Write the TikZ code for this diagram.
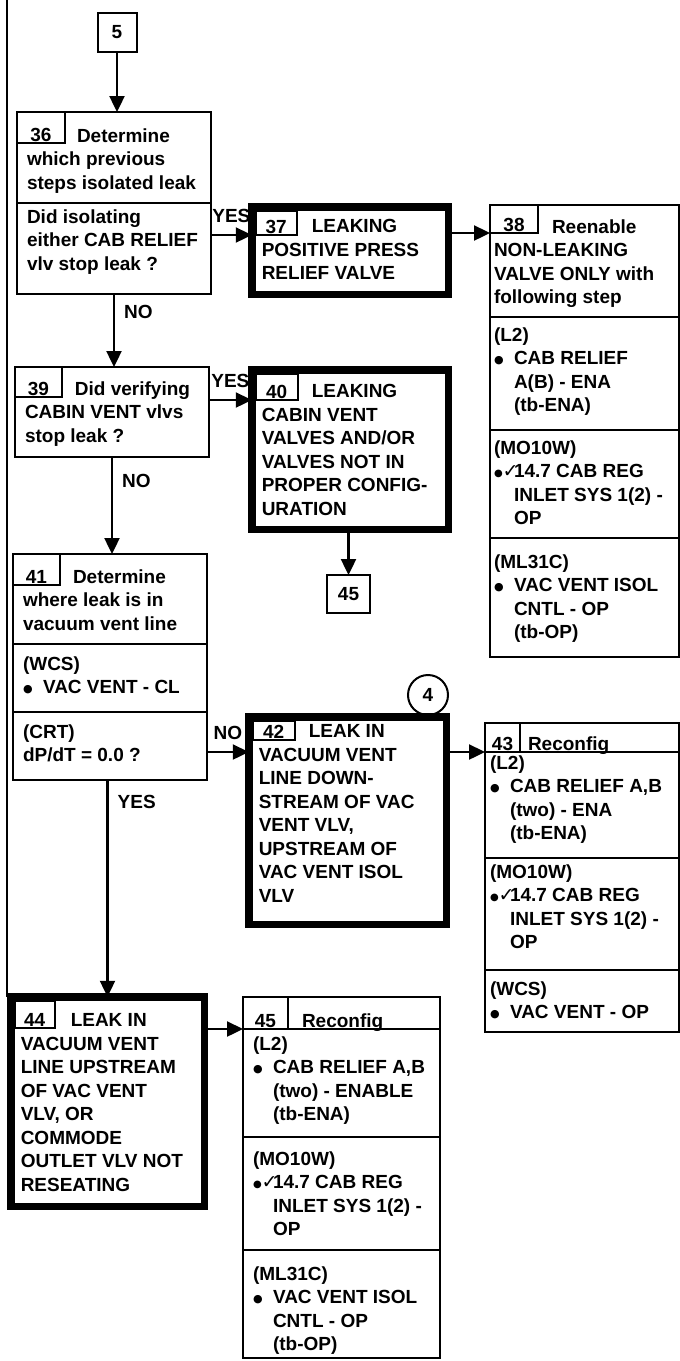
\documentclass[tikz,border=0pt]{standalone}
\usepackage{fontspec}
\newfontfamily\stepfont{Liberation Sans}
\newfontfamily\checkfont{DejaVu Sans}
\usetikzlibrary{arrows.meta,positioning,calc}

\newlength{\hangw}\setlength{\hangw}{20pt}
\newcommand{\bul}{\makebox[\hangw][l]{\raisebox{1.5pt}{\checkfont\fontsize{11}{11}\selectfont ●}}}
\newcommand{\bulchk}{\makebox[\hangw][l]{\raisebox{1.5pt}{\checkfont\fontsize{10}{10}\selectfont ●}{\checkfont\bfseries\fontsize{19}{19}\selectfont ✓}}}
\newcommand{\subline}{\hspace*{\hangw}}
\newcommand{\tabgap}[1][50pt]{\hspace*{#1}}
\newcommand{\stepbody}[5][10pt]{\parbox[t][#3][t]{#2}{\raggedright\leftskip=#1\relax\rule{0pt}{#4}#5}}

\tikzset{
  stepbox/.style={draw, line width=2pt, anchor=north west, inner sep=0pt, outer sep=0pt,
    font=\stepfont\bfseries\fontsize{19}{23.5}\selectfont},
  keybox/.style={stepbox, line width=7.5pt},
  numtab/.style={stepbox, text depth=2pt},
  conn/.style={draw, circle, line width=2pt, minimum size=40pt, inner sep=0pt,
    font=\stepfont\bfseries\fontsize{19}{23.5}\selectfont},
  flow/.style={line width=2.4pt, -{Triangle[length=16pt,width=15pt]}},
  answer/.style={inner sep=1pt, font=\stepfont\bfseries\fontsize{19}{23.5}\selectfont},
  frameline/.style={line width=2.2pt},
}

\begin{document}
\begin{tikzpicture}[x=1pt, y=-1pt]
\useasboundingbox (0,0) rectangle (680,1361);

% left column
\node[stepbox, anchor=center, minimum size=39pt] (b5) at (117,32.5) {5};
\node[stepbox] (b36a) at (17,112) {\stepbody{194pt}{91pt}{30pt}{\tabgap Determine\\which previous\\steps isolated leak}};
\node[stepbox] (b36b) at (b36a.south west) {\stepbody{194pt}{91pt}{20pt}{Did isolating\\either CAB RELIEF\\vlv stop leak ?}};
\node[numtab, minimum width=48pt, text height=29pt] (t36) at (b36a.north west) {36};

\node[stepbox] (b39) at (15,367) {\stepbody{194pt}{90pt}{28pt}{\tabgap Did verifying\\CABIN VENT vlvs\\stop leak ?}};
\node[numtab, minimum width=47pt, text height=28pt] (t39) at (b39.north west) {39};

\node[stepbox] (b41a) at (13,554) {\stepbody{194pt}{90pt}{29pt}{\tabgap Determine\\where leak is in\\vacuum vent line}};
\node[stepbox] (b41b) at (b41a.south west) {\stepbody{194pt}{68pt}{26pt}{(WCS)\\\bul VAC VENT - CL}};
\node[stepbox] (b41c) at (b41b.south west) {\stepbody{194pt}{68pt}{26pt}{(CRT)\\dP/dT = 0.0 ?}};
\node[numtab, minimum width=47pt, text height=29pt] (t41) at (b41a.north west) {41};

\node[keybox] (b44) at (10.75,996.75) {\stepbody{193.5pt}{209.5pt}{30pt}{\tabgap LEAK IN\\VACUUM VENT\\LINE UPSTREAM\\OF VAC VENT\\VLV, OR\\COMMODE\\OUTLET VLV NOT\\RESEATING}};
\node[numtab, minimum width=40.5pt, text height=25.5pt, xshift=3.75pt, yshift=-3.75pt] (t44) at (b44.north west) {44};

% middle column
\node[keybox] (b37) at (251.75,206.75) {\stepbody{196.5pt}{87.5pt}{26pt}{\tabgap LEAKING\\POSITIVE PRESS\\RELIEF VALVE}};
\node[numtab, minimum width=41.5pt, text height=22.5pt, xshift=3.75pt, yshift=-3.75pt] (t37) at (b37.north west) {37};

\node[keybox] (b40) at (251.75,369.75) {\stepbody{196.5pt}{159.5pt}{28pt}{\tabgap LEAKING\\CABIN VENT\\VALVES AND/OR\\VALVES NOT IN\\PROPER CONFIG-\\URATION}};
\node[numtab, minimum width=42.5pt, text height=24.5pt, xshift=3.75pt, yshift=-3.75pt] (t40) at (b40.north west) {40};
\node[stepbox, anchor=center, minimum width=43pt, minimum height=38pt] (b45s) at (348.5,594) {45};

\node[conn] (c4) at (428,695) {4};
\node[keybox] (b42) at (248.75,716.75) {\stepbody{197.5pt}{207.5pt}{21pt}{\tabgap LEAK IN\\VACUUM VENT\\LINE DOWN-\\STREAM OF VAC\\VENT VLV,\\UPSTREAM OF\\VAC VENT ISOL\\VLV}};
\node[numtab, minimum width=42.5pt, text height=17.5pt, xshift=3.75pt, yshift=-3.75pt] (t42) at (b42.north west) {42};

\node[stepbox] (h45) at (243,997) {\stepbody[59pt]{197pt}{32pt}{30pt}{Reconfig}};
\node[numtab, minimum width=45pt, text height=30pt] (t45) at (h45.north west) {45};
\node[stepbox] (b45b) at (h45.south west) {\stepbody{197pt}{108pt}{21pt}{(L2)\\\bul CAB RELIEF A,B\\\subline(two) - ENABLE\\\subline(tb-ENA)}};
\node[stepbox] (b45c) at (b45b.south west) {\stepbody{197pt}{113pt}{28pt}{(MO10W)\\\bulchk 14.7 CAB REG\\\subline INLET SYS 1(2) -\\\subline OP}};
\node[stepbox] (b45d) at (b45c.south west) {\stepbody{197pt}{108pt}{30pt}{(ML31C)\\\bul VAC VENT ISOL\\\subline CNTL - OP\\\subline(tb-OP)}};

% right column
\node[stepbox] (b38a) at (490,205) {\stepbody[4pt]{189pt}{112pt}{28pt}{\tabgap[58pt]Reenable\\NON-LEAKING\\VALVE ONLY with\\following step}};
\node[numtab, minimum width=48pt, text height=26pt] (t38) at (b38a.north west) {38};
\node[stepbox] (b38b) at (b38a.south west) {\stepbody[4pt]{189pt}{113pt}{24pt}{(L2)\\\bul CAB RELIEF\\\subline A(B) - ENA\\\subline(tb-ENA)}};
\node[stepbox] (b38c) at (b38b.south west) {\stepbody[4pt]{189pt}{108pt}{24pt}{(MO10W)\\\bulchk 14.7 CAB REG\\\subline INLET SYS 1(2) -\\\subline OP}};
\node[stepbox] (b38d) at (b38c.south west) {\stepbody[4pt]{189pt}{119pt}{30pt}{(ML31C)\\\bul VAC VENT ISOL\\\subline CNTL - OP\\\subline(tb-OP)}};

\node[stepbox] (h43) at (485,723) {\stepbody[43pt]{194pt}{29pt}{27pt}{Reconfig}};
\node[numtab, minimum width=35pt, text height=27pt] (t43) at (h43.north west) {43};
\node[stepbox] (b43b) at (h43.south west) {\stepbody[5pt]{194pt}{106pt}{17pt}{(L2)\\\bul CAB RELIEF A,B\\\subline(two) - ENA\\\subline(tb-ENA)}};
\node[stepbox] (b43c) at (b43b.south west) {\stepbody[5pt]{194pt}{112pt}{20pt}{(MO10W)\\\bulchk 14.7 CAB REG\\\subline INLET SYS 1(2) -\\\subline OP}};
\node[stepbox] (b43d) at (b43c.south west) {\stepbody[5pt]{194pt}{62pt}{25pt}{(WCS)\\\bul VAC VENT - OP}};

% connectors
\draw[flow] (b5.south) -- (b5.south |- b36a.north);
\draw[flow] (b36b.east |- t37.south) -- node[answer, above=10pt] {YES} (b37.west |- t37.south);
\draw[flow] (b36b.south) -- node[answer, right=8pt, pos=0.25] {NO} (b36b.south |- b39.north);
\draw[flow] (b37.east |- t38.south) -- (t38.south west);
\draw[flow] (b39.east |- t40.south) -- node[answer, above=10pt] {YES} (b40.west |- t40.south);
\draw[flow] (b39.south) -- node[answer, right=8pt, pos=0.25] {NO} (b39.south |- b41a.north);
\draw[flow] (b40.south -| b45s.north) -- (b45s.north);
\draw[flow] (b41c.east |- h43.south) -- node[answer, above=10pt] {NO} (b42.west |- h43.south);
\draw[flow] (b41c.south -| b44.north) -- node[answer, right=8pt, pos=0.1] {YES} (b44.north);
\draw[flow] (b42.east |- h43.south) -- (h43.south west);
\draw[flow] (b44.east |- h45.south) -- (h45.south west);

\coordinate (frametop) at (7,0);
\draw[frameline] (frametop) -- (frametop |- b44.north);
\end{tikzpicture}
\end{document}
